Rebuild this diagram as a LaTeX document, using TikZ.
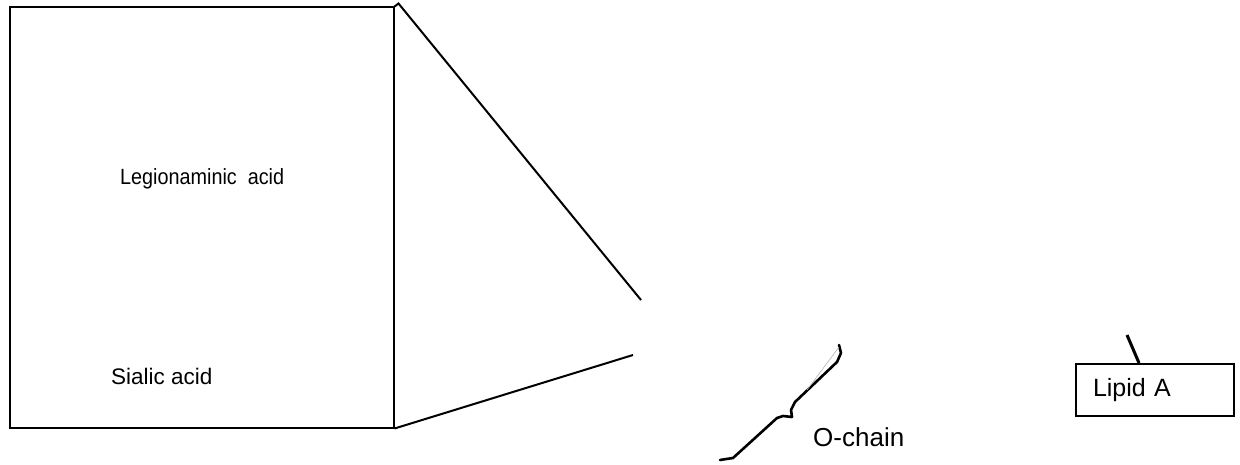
\documentclass[tikz,border=0pt]{standalone}
\usepackage{fontspec}
\setmainfont{Liberation Sans}
\usetikzlibrary{positioning,calc}

\begin{document}
\begin{tikzpicture}[x=1pt,y=-1pt,
  edge/.style   ={black, line width=2pt},
  chain/.style  ={black, line width=2.6pt, line cap=round, line join=round},
  lbl/.style    ={inner sep=0pt, anchor=base west},
]
\useasboundingbox (0,0) rectangle (1240,465);

% zoomed box
\node[draw, edge, minimum width=384pt, minimum height=420pt, inner sep=0pt, anchor=north west] (zoom) at (8.5,6.5) {};
\node[lbl, font=\fontsize{22}{26}\selectfont] (leg) at (120,185) {\scalebox{0.9}[1]{Legionaminic\ \ acid}};
\node[lbl, font=\fontsize{22.5}{26}\selectfont] (sia) at (111,384) {Sialic acid};

% expansion lines
\coordinate (tipA) at (641,300);
\coordinate (tipB) at (633,355);
\draw[edge] (zoom.north east) -- ++(4,-3) -- (tipA);
\draw[edge] (zoom.south east) -- (tipB);

% O-chain
\draw[chain] (720,460) -- (733,458) -- (777,418) -- (783,416) -- (792,417)
  -- (791,410) -- (795,402) -- (837,362) -- (841,353) -- (839,345);
\draw[gray!60, line width=0.6pt] (839,347) -- (807,390);
\node[lbl, font=\fontsize{26}{30}\selectfont] (och) at (813,446) {O-chain};

% lipid A
\node[draw, edge, anchor=north west, minimum width=158pt, minimum height=52pt,
  text width=124pt, inner xsep=17pt, inner ysep=0pt, align=left,
  font=\fontsize{25}{29}\selectfont] (lipid) at (1075,363) {Lipid A};
\coordinate (stub) at (1127,335);
\draw[black, line width=3pt] (stub) -- (lipid.north -| 1139,0);
\end{tikzpicture}
\end{document}
